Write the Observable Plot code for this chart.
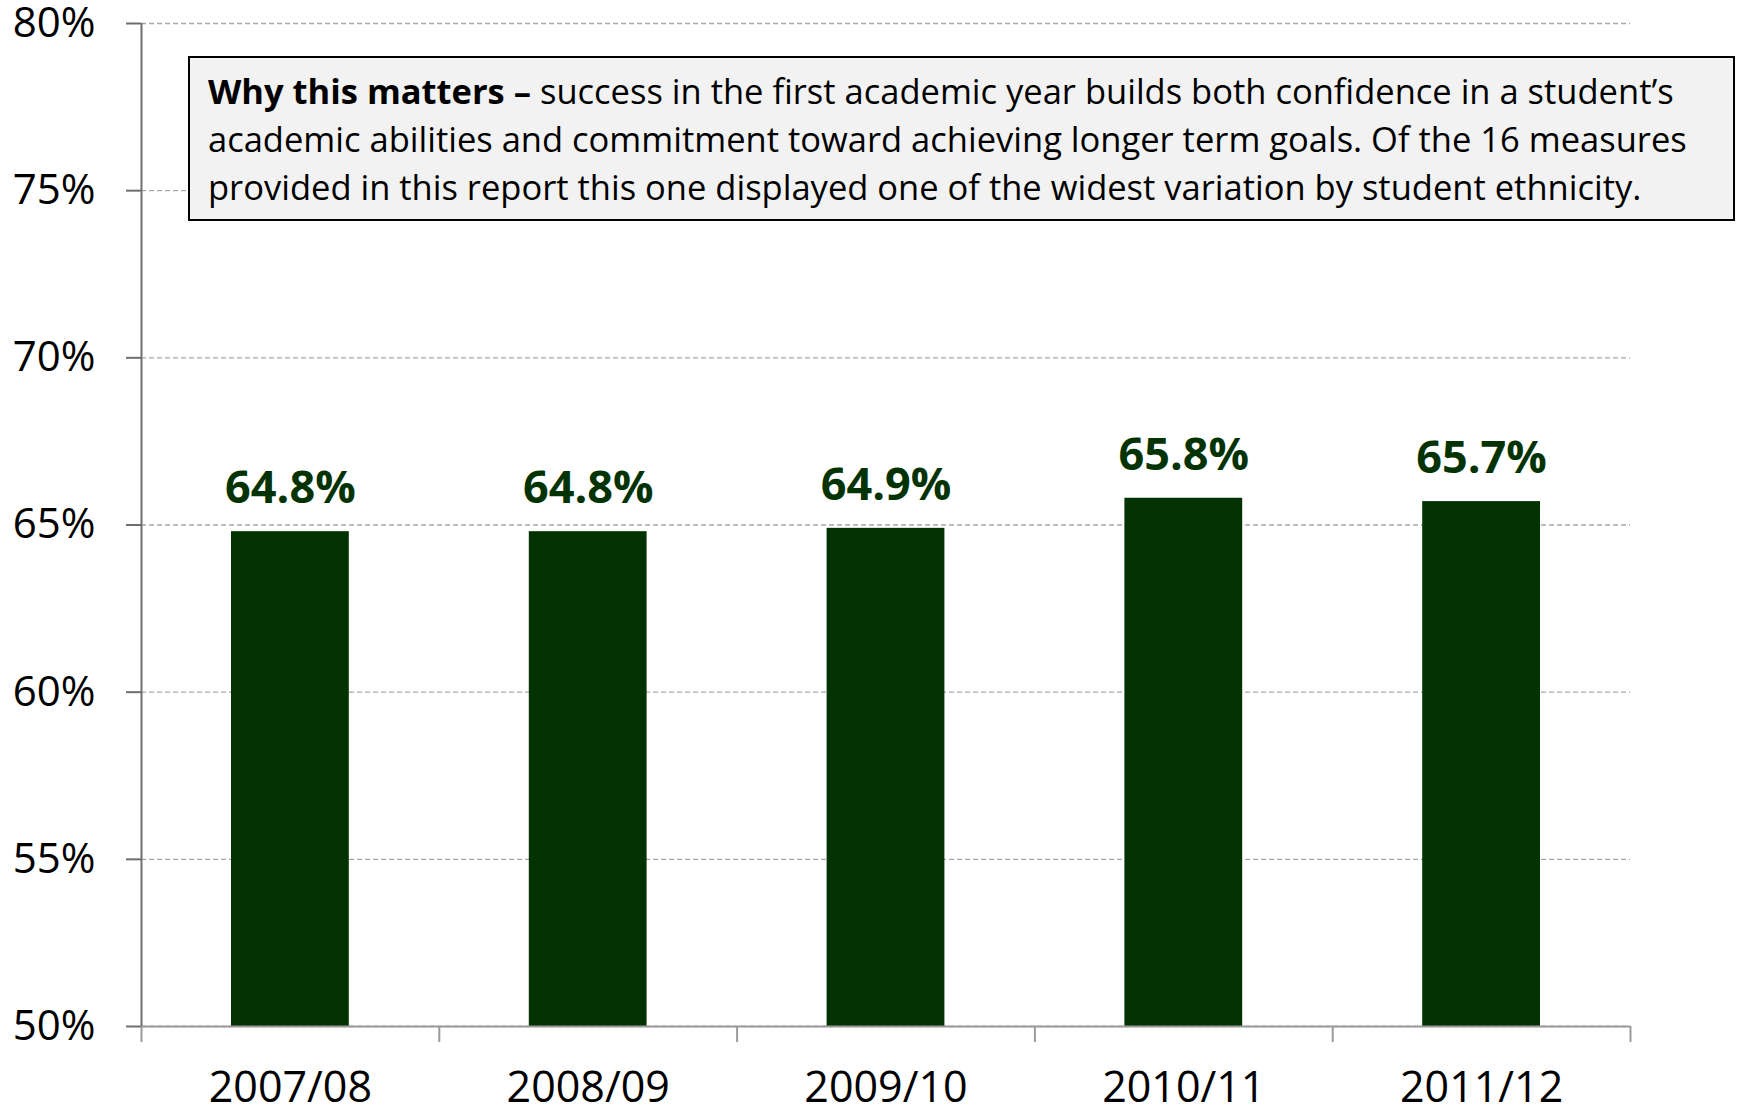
<!DOCTYPE html>
<html>
<head>
<meta charset="utf-8">
<script src="https://cdn.jsdelivr.net/npm/d3@7"></script>
<script src="https://cdn.jsdelivr.net/npm/@observablehq/plot@0.6"></script>
<style>
  html, body { margin: 0; padding: 0; background: #fff; }
  #wrap { position: relative; width: 1745px; height: 1108px; overflow: hidden; font-family: "Open Sans", sans-serif; }
  #note {
    position: absolute; left: 188px; top: 56px; width: 1547px; height: 165px;
    box-sizing: border-box; background: #f2f2f2; border: 2px solid #000;
    padding: 9px 0 0 18px; font-size: 34.5px; line-height: 48px; color: #000; white-space: nowrap;
  }
  #note b { font-weight: 700; }
</style>
</head>
<body>
<div id="wrap">
  <div id="chart"></div>
  <div id="note"><b>Why this matters –</b> success in the first academic year builds both confidence in a student’s<br>academic abilities and commitment toward achieving longer term goals. Of the 16 measures<br>provided in this report this one displayed one of the widest variation by student ethnicity.</div>
</div>
<script>
const years = ["2007/08", "2008/09", "2009/10", "2010/11", "2011/12"];
const rates = [64.8, 64.8, 64.9, 65.8, 65.7];
const yTicks = [50, 55, 60, 65, 70, 75, 80];

const data = years.map((year, i) => ({year, i, rate: rates[i]}));
const centers = years.map((_, i) => i + 0.5);
const bounds = years.map((_, i) => i).concat([years.length]);

const green = "#033303";

const chart = Plot.plot({
  width: 1745,
  height: 1108,
  marginLeft: 141,
  marginRight: 115,
  marginTop: 23,
  marginBottom: 82,
  style: { fontFamily: "Open Sans, sans-serif", background: "#fff", color: "#000" },
  x: { type: "linear", domain: [0, years.length] },
  y: { domain: [50, 80] },
  marks: [
    Plot.gridY(yTicks, { stroke: "#a6a6a6", strokeOpacity: 1, strokeWidth: 1.3, strokeDasharray: "5,3" }),
    Plot.rectY(data, { x1: "i", x2: d => d.i + 1, y1: 50, y2: "rate", fill: green, insetLeft: 90, insetRight: 90 }),
    Plot.text(data, {
      x: d => d.i + 0.5, y: "rate", text: d => d.rate.toFixed(1) + "%",
      dy: -43, fill: green, fontSize: 45, fontWeight: 700, lineAnchor: "middle"
    }),
    Plot.ruleY([50], { stroke: "#9a9a9a", strokeWidth: 2 }),
    Plot.ruleX([0], { stroke: "#6e6e6e", strokeWidth: 2 }),
    Plot.axisY({
      ticks: yTicks, tickSize: 15, tickPadding: 31, tickFormat: d => d + "%",
      fontSize: 42, stroke: "#6e6e6e", strokeWidth: 2, label: null
    }),
    Plot.axisX({
      ticks: bounds, tickSize: 16, tickFormat: () => "", stroke: "#9a9a9a", strokeWidth: 2, label: null
    }),
    Plot.axisX({
      ticks: centers, tickSize: 0, tickPadding: 45, tickFormat: d => years[Math.floor(d)],
      fontSize: 43, label: null
    })
  ]
});
document.getElementById("chart").appendChild(chart);
</script>
</body>
</html>
